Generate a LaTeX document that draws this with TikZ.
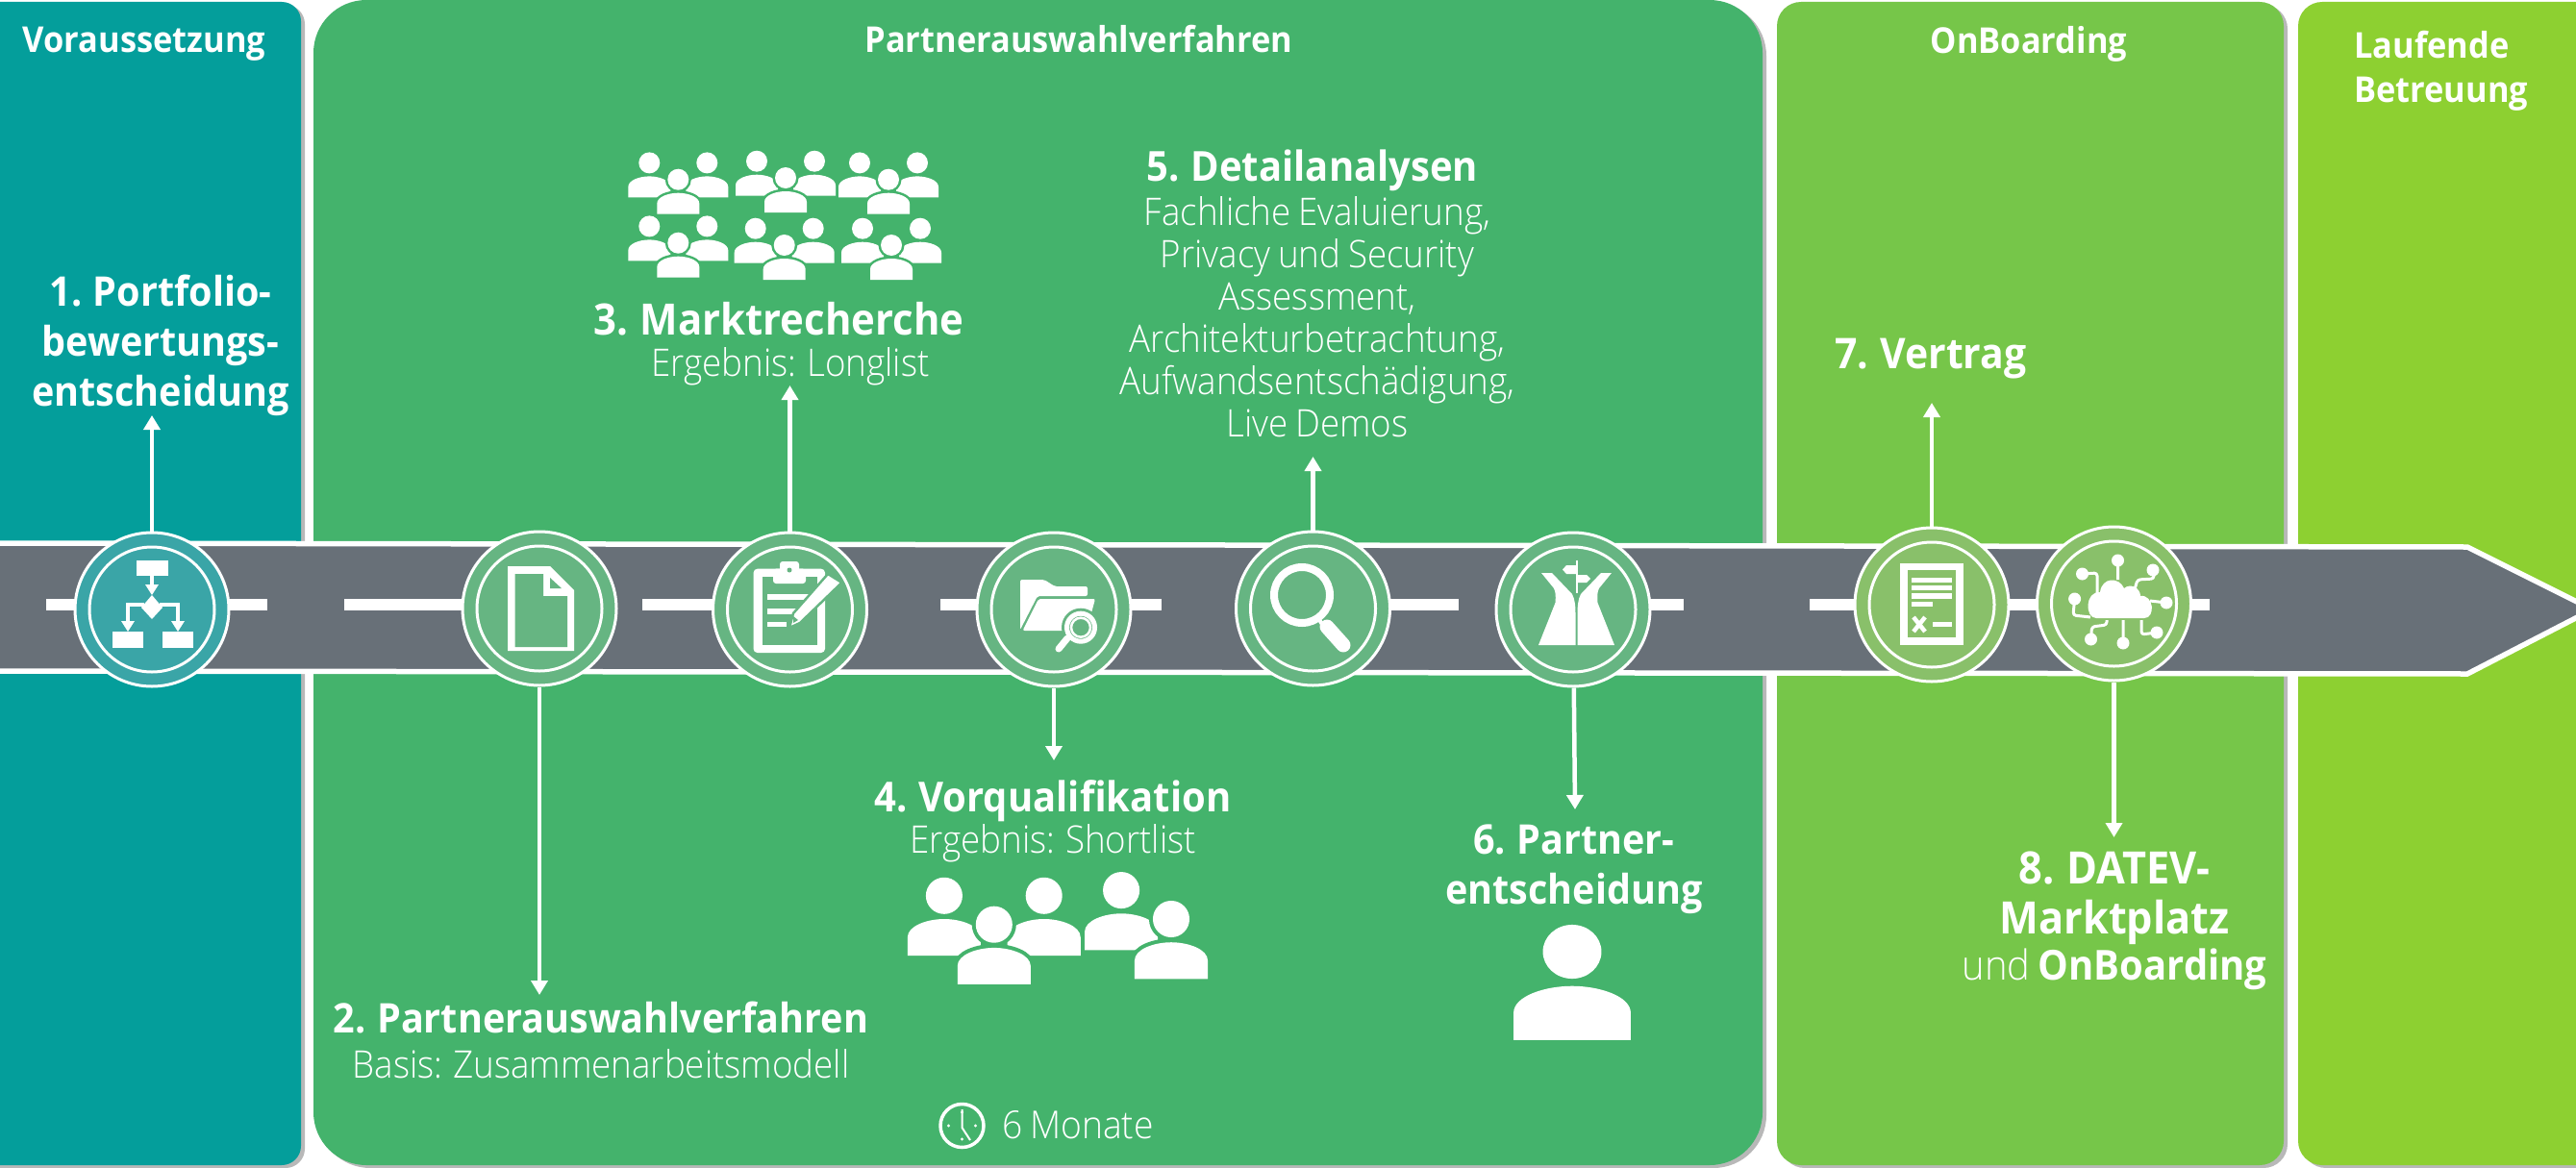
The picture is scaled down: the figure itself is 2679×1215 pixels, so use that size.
\documentclass[tikz,border=0pt]{standalone}
\usepackage{fontspec}
\setmainfont{Open Sans}[FakeStretch=0.93,WordSpace=0.8]
\newfontfamily\lightf{Open Sans Light}[FakeStretch=0.93,WordSpace=0.8]
\usetikzlibrary{arrows.meta}
\definecolor{pteal}{HTML}{049E9B}
\definecolor{pgreen}{HTML}{44B36C}
\definecolor{plime}{HTML}{76C649}
\definecolor{pyell}{HTML}{8DD031}
\definecolor{roadc}{HTML}{687078}
\definecolor{cteal}{HTML}{3AA5A7}
\definecolor{cgreen}{HTML}{66B582}
\definecolor{clime}{HTML}{89C06A}
\newcommand\psnpath{(0,0) circle (11) (-22,36) -- (-22,25) .. controls (-22,18) and (-10,14) .. (0,14) .. controls (10,14) and (22,18) .. (22,25) -- (22,36) -- cycle}
\tikzset{
  shadowp/.style={fill=black,opacity=.28},
  head/.style={text=white,font=\bfseries\fontsize{37}{46}\selectfont,align=center,inner sep=0pt},
  title/.style={text=white,font=\bfseries\fontsize{42.5}{52}\selectfont,align=center,inner sep=0pt},
  sub/.style={text=white,font=\lightf\fontsize{39.5}{44}\selectfont,align=center,inner sep=0pt},
  stopc/.style={circle,minimum size=160pt,inner sep=0pt,draw=white,line width=3pt},
  ringc/.style={draw=white,line width=3pt},
  conn/.style={draw=white,line width=4.5pt,-{Triangle[length=15pt,width=17pt]}},
  ico/.style={fill=white,draw=none},
  back/.pic={\path[fill=white] \psnpath;},
  frontS/.pic={\path[fill=white,draw=pgreen,line width=5pt] (0,0) circle (11);
     \path[fill=white,draw=pgreen,line width=5pt] (-22,36) -- (-22,25) .. controls (-22,18) and (-10,14) .. (0,14) .. controls (10,14) and (22,18) .. (22,25) -- (22,36) -- cycle;
     \path[fill=white] \psnpath;},
  frontL/.pic={\path[fill=white,draw=pgreen,line width=8pt] (0,0) circle (11);
     \path[fill=white,draw=pgreen,line width=8pt] (-22,36) -- (-22,25) .. controls (-22,18) and (-10,14) .. (0,14) .. controls (10,14) and (22,18) .. (22,25) -- (22,36) -- cycle;
     \path[fill=white] \psnpath;},
  trio/.pic={\pic at (-30,-17.3) {back}; \pic at (30,-17.3) {back}; \pic at (0,0) {frontS};},
}
\begin{document}
\begin{tikzpicture}[x=1pt,y=-1pt]
\useasboundingbox (0,0) rectangle (2679,1215);
\fill[white] (0,0) rectangle (2679,1215);
\begin{scope}
\clip (0,0) rectangle (2679,1215);
% shadows
\fill[shadowp,rounded corners=20pt] (-30,5) rectangle (317,1215);
\fill[shadowp,rounded corners=55pt] (330,3) rectangle (1837,1215);
\fill[shadowp,rounded corners=25pt] (1852,5) rectangle (2379,1215);
\fill[shadowp,rounded corners=25pt] (2394,5) rectangle (2720,1215);
% panels
\fill[pteal,rounded corners=20pt] (-30,2) rectangle (313,1212);
\fill[pgreen,rounded corners=55pt] (326,0) rectangle (1833,1212);
\fill[plime,rounded corners=25pt] (1848,2) rectangle (2375,1212);
\fill[pyell,rounded corners=25pt] (2390,2) rectangle (2720,1212);
% road
\filldraw[fill=roadc,draw=white,line width=5.5pt,line join=miter]
  (-10,565) -- (2566,569) -- (2696,634) -- (2566,701) -- (-10,698) -- cycle;
% dashes
\foreach \a/\b in {48/278,358/487,668/803,978/1208,1290/1517,1600/1751,1882/2298}
  \fill[white] (\a,623) rectangle (\b,635);
\end{scope}
% stops
\node[stopc,fill=cteal] (c1) at (158,634) {};
\node[stopc,fill=cgreen] (c2) at (561,633) {};
\node[stopc,fill=cgreen] (c3) at (821.5,634) {};
\node[stopc,fill=cgreen] (c4) at (1096,634) {};
\node[stopc,fill=cgreen] (c5) at (1365.5,633) {};
\node[stopc,fill=cgreen] (c6) at (1636,634) {};
\node[stopc,fill=clime] (c7) at (2009,629) {};
\node[stopc,fill=clime] (c8) at (2198.5,628) {};
\foreach \n in {c1,c2,c3,c4,c5,c6,c7,c8} \draw[ringc] (\n) circle (65);
% connector ends
\coordinate (e1) at (158,432);
\coordinate (e2) at (561,1035);
\coordinate (e3) at (821.5,401);
\coordinate (e4) at (1096,791);
\coordinate (e5) at (1365.5,475);
\coordinate (e6) at (1638,842);
\coordinate (e7) at (2009,419);
\coordinate (e8) at (2198.5,871);
\draw[conn] (c1) -- (e1);
\draw[conn] (c2) -- (e2);
\draw[conn] (c3) -- (e3);
\draw[conn] (c4) -- (e4);
\draw[conn] (c5) -- (e5);
\draw[conn] (c6) -- (e6);
\draw[conn] (c7) -- (e7);
\draw[conn] (c8) -- (e8);
% icon 1 flowchart
\fill[ico] (142,583) rectangle (174.5,599);
\fill[ico] (116.5,657) rectangle (148.7,674);
\fill[ico] (169,657) rectangle (201,674);
\fill[ico] (158,619) -- (169,632) -- (158,644) -- (147,632) -- cycle;
\draw[white,line width=3.5pt] (158,599) -- (158,612);
\draw[white,line width=3.5pt] (150,629) -- (133,629) -- (133,650);
\draw[white,line width=3.5pt] (166,629) -- (185,629) -- (185,650);
\fill[ico] (151,608) -- (165,608) -- (158,619) -- cycle;
\fill[ico] (126,646) -- (140,646) -- (133,657) -- cycle;
\fill[ico] (178,646) -- (192,646) -- (185,657) -- cycle;
% icon 2 document
\fill[ico] (528,589) -- (572,589) -- (597,614) -- (597,677) -- (528,677) -- cycle;
\fill[cgreen] (535.5,597) -- (565,597) -- (565,620) -- (590,620) -- (590,673) -- (535.5,673) -- cycle;
\fill[cgreen] (572,601) -- (584,612) -- (572,612) -- cycle;
% icon 3 clipboard
\fill[ico,rounded corners=4pt] (783.6,591.7) rectangle (858,679);
\fill[cgreen] (793,600) rectangle (850,671);
\fill[ico,rounded corners=3pt] (804,591.7) rectangle (838,607);
\fill[ico,rounded corners=3pt] (811,584) rectangle (831,600);
\fill[cgreen] (821,593) circle (2.5);
\fill[ico] (798,618) rectangle (841,624);
\fill[ico] (798,633) rectangle (835,639);
\fill[ico] (798,647) rectangle (818,652);
\filldraw[fill=white,draw=cgreen,line width=2.5pt] (821,653) -- (825,638) -- (861,597) -- (875.5,606) -- (832,648) -- cycle;
\fill[cgreen] (825,641) -- (830,645) -- (825,648) -- cycle;
% icon 4 folder
\fill[ico,rounded corners=2pt] (1061,655) -- (1061,603) -- (1086,603) -- (1097,610) -- (1131,610) -- (1131,620) -- (1079,620) -- cycle;
\fill[ico,rounded corners=2pt] (1080,623) -- (1139,623) -- (1130,656) -- (1063.6,656) -- cycle;
\draw[cgreen,line width=8pt,line cap=round] (1104,675) -- (1112,662);
\fill[cgreen] (1124,652.7) circle (20);
\draw[white,line width=5pt] (1124,652.7) circle (14.5);
\draw[white,line width=2.5pt] (1124,652.7) circle (10);
\draw[white,line width=7pt,line cap=round] (1101,675) -- (1110,664);
% icon 5 magnifier
\draw[white,line width=8pt] (1354,619) circle (29);
\draw[white,line width=4pt] (1371,643) -- (1376,651);
\draw[white,line width=15pt,line cap=round] (1380,652) -- (1397,671);
% icon 6 road with signpost
\fill[ico] (1600,671) -- (1617.5,627) .. controls (1618,620) and (1618,616) .. (1616,612) -- (1603,596) -- (1614,596) -- (1635,618) .. controls (1638,624) and (1638.5,630) .. (1638.5,640) -- (1638.5,671) -- cycle;
\fill[ico] (1679,671) -- (1661.5,627) .. controls (1661,620) and (1661,616) .. (1663,612) -- (1676,596) -- (1665,596) -- (1644,618) .. controls (1641,624) and (1640.5,630) .. (1640.5,640) -- (1640.5,671) -- cycle;
\draw[white,line width=2pt] (1639.5,582.7) -- (1639.5,617);
\fill[ico] (1639,588) -- (1629,588) -- (1625,592.5) -- (1629,597) -- (1639,597) -- cycle;
\fill[ico] (1640,598) -- (1650,598) -- (1654,602) -- (1650,606) -- (1640,606) -- cycle;
% icon 7 contract
\fill[ico] (1975.5,586) rectangle (2042,671);
\fill[clime] (1984,593) rectangle (2034,663);
\foreach \ya/\yb in {601/606,609/614,617/623} \fill[ico] (1988,\ya) rectangle (2030,\yb);
\fill[ico] (1988,626) rectangle (2010,631);
\draw[white,line width=4.5pt] (1990,642) -- (2002,657) (2002,642) -- (1990,657);
\fill[ico] (2010,647) rectangle (2030,652);
% icon 8 cloud
\fill[ico] (2180,643) .. controls (2168,643) and (2168,615) .. (2184,616) .. controls (2186,600) and (2204,600) .. (2209,612) .. controls (2216,606) and (2226,612) .. (2226,620) .. controls (2240,618) and (2242,643) .. (2230,643) -- cycle;
\draw[white,line width=3pt,line join=round,rounded corners=3pt]
  (2202.5,583) -- (2202.5,603)
  (2240,593) -- (2240,602) -- (2223,603) -- (2220,613)
  (2253,627) -- (2236,625)
  (2243,658) -- (2227,660) -- (2227,645)
  (2208,669) -- (2208,645)
  (2174.5,665) -- (2175.5,652) -- (2191,650) -- (2191,645)
  (2157.6,623) -- (2156,640) -- (2174,642)
  (2165.5,597) -- (2181,596) -- (2181,617);
\foreach \px/\py in {2202.5/583,2239/593,2253/627,2243/658,2208/669,2174.5/665,2157.6/623,2165.5/597}
  \fill[white] (\px,\py) circle (6.5);
% people
\foreach \gx/\gy in {705.3/186.7,817/185,924/186.7,705.3/252.7,815.7/255,927/255}
  \pic at (\gx,\gy) {trio};
\begin{scope}[shift={(1033.8,961.7)},scale=1.73]
  \pic[transform shape] at (-30,-17.3) {back}; \pic[transform shape] at (30,-17.3) {back}; \pic[transform shape] at (0,0) {frontL};
\end{scope}
\begin{scope}[shift={(1218,956)},scale=1.73]
  \pic[transform shape] at (-30,-17.3) {back}; \pic[transform shape] at (0,0) {frontL};
\end{scope}
\begin{scope}[shift={(1635,990)},xscale=2.77,yscale=2.55]
  \pic[transform shape] at (0,0) {back};
\end{scope}
% clock
\coordinate (clk) at (1000.5,1171);
\draw[white,line width=3.5pt] (clk) circle (22.5);
\draw[white,line width=2pt] (1000.5,1154) -- (1000.5,1173) -- (1009,1186);
\foreach \dx/\dy in {1000.5/1157,1000.5/1185,986.5/1171,1014.5/1171} \fill[white] (\dx,\dy) circle (1.6);
% texts
\node[head] (h1) at (150,46) {Voraussetzung};
\node[head] (h2) at (1122,41) {Partnerauswahlverfahren};
\node[head] (h3) at (2110,46) {OnBoarding};
\node[head,align=left,anchor=west] (h4) at (2448,74) {Laufende\\Betreuung};
\node[title] (t1) at (167,359) {1. Portfolio-\\bewertungs-\\entscheidung};
\node[title,font=\bfseries\fontsize{45}{52}\selectfont] (t3) at (810,332) {3. Marktrecherche};
\node[sub] (s3) at (822,381) {Ergebnis: Longlist};
\node[title,font=\bfseries\fontsize{43}{52}\selectfont] (t5) at (1365,177) {5. Detailanalysen};
\node[sub] (s5) at (1370,330) {Fachliche Evaluierung,\\Privacy und Security\\Assessment,\\Architekturbetrachtung,\\Aufwandsentschädigung,\\Live Demos};
\node[title,font=\bfseries\fontsize{43}{52}\selectfont] (t4) at (1095,833) {4. Vorqualifikation};
\node[sub] (s4) at (1095,877) {Ergebnis: Shortlist};
\node[title] (t2) at (625,1059) {2. Partnerauswahlverfahren};
\node[sub] (s2) at (625,1107) {Basis: Zusammenarbeitsmodell};
\node[title] (t6) at (1637,904) {6. Partner-\\entscheidung};
\node[title,font=\bfseries\fontsize{44}{52}\selectfont] (t7) at (2008,373) {7. Vertrag};
\node[title,font=\bfseries\fontsize{46.5}{52}\selectfont] (t8) at (2199,934) {8. DATEV-\\Marktplatz};
\node[sub,font=\lightf\fontsize{43}{52}\selectfont] (t8b) at (2199,1008) {und \textbf{\rmfamily OnBoarding}};
\node[sub,anchor=west,font=\lightf\fontsize{40}{44}\selectfont] (m) at (1042,1170) {6 Monate};
\end{tikzpicture}
\end{document}
